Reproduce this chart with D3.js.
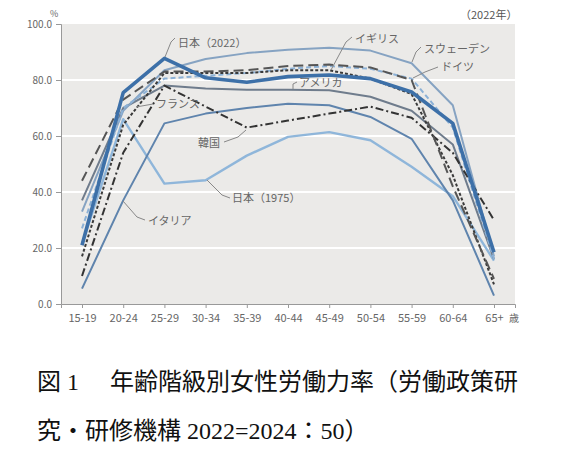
<!DOCTYPE html>
<html><head><meta charset="utf-8">
<script src="https://cdn.jsdelivr.net/npm/d3@7"></script>
<style>body{margin:0;background:#fff}svg{display:block}</style>
</head><body>
<svg id="c" width="580" height="470"></svg>
<script>
const ages = ["15-19","20-24","25-29","30-34","35-39","40-44","45-49","50-54","55-59","60-64","65+"];
const yTicks = [0,20,40,60,80,100];
const japan2022 = [21, 75.5, 87.7, 80.8, 79.2, 81.2, 81.8, 80.5, 75.7, 64.5, 18.5];
const japan1975 = [21.5, 66, 43, 44.2, 53, 59.7, 61.4, 58.5, 49, 38.5, 15.5];
const sweden   = [33, 69, 83.5, 87.5, 89.6, 90.8, 91.5, 90.5, 86, 71, 17];
const germany  = [27, 70, 80.5, 81.5, 82.5, 84, 85, 84, 80.5, 63, 16];
const uk       = [44, 73, 83, 83, 83.5, 85, 85.5, 84.5, 80, 42, 9];
const france   = [17, 64, 82.5, 82.5, 82.5, 83.5, 83.5, 80.5, 75, 46, 7];
const usa      = [37, 70, 78, 77, 76.5, 76.5, 76.3, 74, 69, 57, 16];
const korea    = [10, 54, 78, 70.5, 63, 65.5, 68, 70.5, 66.5, 54, 30];
const italy    = [5.5, 37, 64.5, 68, 70, 71.5, 71, 66.8, 59, 37, 3];

const series = [
  {name:"日本（1975）", values:japan1975, color:"#8fb6da", width:2.4, dash:null},
  {name:"イタリア", values:italy, color:"#5f84ad", width:2, dash:null},
  {name:"アメリカ", values:usa, color:"#6f7c8c", width:2, dash:null},
  {name:"スウェーデン", values:sweden, color:"#86a3c2", width:2, dash:null},
  {name:"ドイツ", values:germany, color:"#8cb1d6", width:2, dash:"5,3"},
  {name:"韓国", values:korea, color:"#333", width:2, dash:"8,3,2,3"},
  {name:"フランス", values:france, color:"#3a3a3a", width:2, dash:"3,2"},
  {name:"イギリス", values:uk, color:"#555", width:2, dash:"10,5"},
  {name:"日本（2022）", values:japan2022, color:"#3d70a8", width:3.6, dash:null}
];

const svg = d3.select("#c");
const L=61, R=515, T=24, B=304;
const x = d3.scalePoint().domain(ages).range([L,R]).padding(0.51);
const y = d3.scaleLinear().domain([0,100]).range([B,T]);
const font = "'Noto Sans CJK JP','Noto Sans',sans-serif";

svg.append("rect").attr("x",L).attr("y",T).attr("width",R-L).attr("height",B-T).attr("fill","#ebeae8");
svg.append("g").selectAll("line").data(yTicks.filter(d=>d>0&&d<100)).join("line")
  .attr("x1",L).attr("x2",R).attr("y1",d=>y(d)).attr("y2",d=>y(d))
  .attr("stroke","#fff").attr("stroke-width",2);

// axes
const yAxis = d3.axisLeft(y).tickValues(yTicks).tickFormat(d3.format(".1f")).tickSize(5).tickPadding(4);
const gy = svg.append("g").attr("transform",`translate(${L},0)`).call(yAxis);
gy.select(".domain").attr("stroke","#999");
gy.selectAll(".tick line").attr("stroke","#999");
gy.selectAll("text").attr("font-family",font).attr("font-size",10).attr("fill","#666");

const xAxis = d3.axisBottom(x).tickSize(4).tickSizeOuter(4).tickPadding(6);
const gx = svg.append("g").attr("transform",`translate(0,${B})`).call(xAxis);
gx.select(".domain").attr("stroke","#999");
gx.selectAll(".tick line").attr("stroke","#999");
gx.selectAll("text").attr("font-family",font).attr("font-size",11).attr("fill","#666");

// lines
const line = d3.line().x((d,i)=>x(ages[i])).y(d=>y(d));
svg.append("g").selectAll("path").data(series).join("path")
  .attr("d",d=>line(d.values)).attr("fill","none")
  .attr("stroke",d=>d.color).attr("stroke-width",d=>d.width)
  .attr("stroke-dasharray",d=>d.dash).attr("stroke-linejoin","round");

// labels with leaders
const labels = [
  {t:"日本（2022）", tx:178, ty:47, pts:[[175,38],[171,42],[165,57]]},
  {t:"イギリス", tx:355, ty:43, pts:[[352,37],[346,42],[331,70]]},
  {t:"スウェーデン", tx:424, ty:53, pts:[[421,47],[416,52],[412,62]]},
  {t:"ドイツ", tx:441, ty:71, pts:[[438,67],[425,72],[413,78]]},
  {t:"アメリカ", tx:299, ty:87, pts:[[297,82],[293,84],[293,89]]},
  {t:"フランス", tx:156, ty:108, pts:[[153,104],[136,107]]},
  {t:"韓国", tx:198, ty:147, pts:[[224,142],[238,137],[246,130]]},
  {t:"日本（1975）", tx:232, ty:202, pts:[[230,198],[222,195],[207,180]]},
  {t:"イタリア", tx:148, ty:225, pts:[[145,220],[137,217],[123,201]]}
];
const lg = svg.append("g");
lg.selectAll("path").data(labels).join("path")
  .attr("d",d=>d3.line()(d.pts)).attr("fill","none").attr("stroke","#888").attr("stroke-width",1);
lg.selectAll("text").data(labels).join("text")
  .attr("x",d=>d.tx).attr("y",d=>d.ty).text(d=>d.t)
  .attr("font-family",font).attr("font-size",11).attr("fill","#666");

svg.append("text").attr("x",50).attr("y",17).text("%").attr("font-family",font).attr("font-size",9).attr("fill","#666");
svg.append("text").attr("x",460).attr("y",19).text("（2022年）").attr("font-family",font).attr("font-size",11).attr("fill","#555");
svg.append("text").attr("x",509).attr("y",322).text("歳").attr("font-family",font).attr("font-size",10).attr("fill","#666");

// caption
const cf = "'Liberation Serif','Noto Sans CJK JP',serif";
svg.append("text").attr("x",37).attr("y",390).text("図 1").attr("font-family",cf).attr("font-size",24).attr("fill","#111");
svg.append("text").attr("x",110).attr("y",390).text("年齢階級別女性労働力率（労働政策研")
  .attr("font-family",cf).attr("font-size",24).attr("fill","#111");
svg.append("text").attr("x",37).attr("y",439).text("究・研修機構 2022=2024：50）")
  .attr("font-family",cf).attr("font-size",24).attr("fill","#111");
</script>
</body></html>
